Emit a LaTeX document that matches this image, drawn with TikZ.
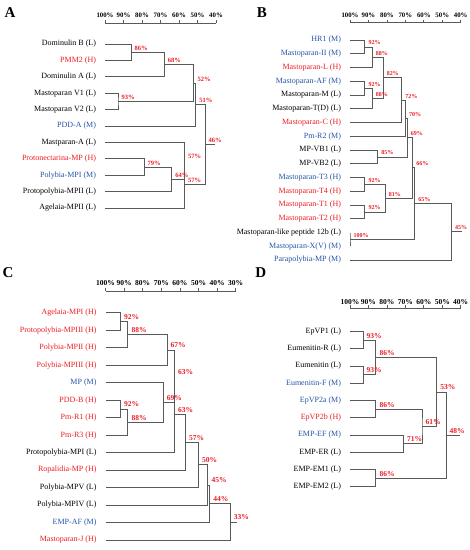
\documentclass[tikz,border=0pt]{standalone}
\usepackage{fontspec}
\setmainfont{Liberation Serif}
\definecolor{hred}{RGB}{236,28,36}
\definecolor{mblue}{RGB}{36,84,166}

\begin{document}
\begin{tikzpicture}[x=1pt, y=-1pt,
  leaf/.style={anchor=east, inner sep=0pt, outer xsep=9pt, font=\fontsize{8}{9}\selectfont},
  pct/.style={anchor=base west, inner sep=0pt, xshift=3.5pt, yshift=2pt, text=hred, font=\bfseries\fontsize{#1}{#1}\selectfont},
  pct/.default=7.5,
  tick/.style={inner sep=0pt, font=\bfseries\fontsize{#1}{#1}\selectfont},
  panel/.style={font=\bfseries\fontsize{15}{15}\selectfont},
  br/.style={draw=black!65, line width=0.7pt}]

  \useasboundingbox (0,0) rectangle (470,550);

  % panel A
  \node[panel] (labA) at (10,12.5) {A};
  \draw[br] (105,23) -- (216,23);
  \foreach \p [count=\i from 0] in {100,90,...,40} {
    \draw[br] (105+\i*18.5,23) -- ++(0,-3);
    \node[tick=6.8] (tA\i) at (105+\i*18.5,15) {\p\%};
  }

  \node[leaf] (a1) at (105,44) {Dominulin B (L)};
  \node[leaf, text=hred] (a2) at (105,60.4) {PMM2 (H)};
  \node[leaf] (a3) at (105,76.8) {Dominulin A (L)};
  \node[leaf] (a4) at (105,93.2) {Mastoparan V1 (L)};
  \node[leaf] (a5) at (105,109.6) {Mastoparan V2 (L)};
  \node[leaf, text=mblue] (a6) at (105,126) {PDD-A (M)};
  \node[leaf] (a7) at (105,142.4) {Mastparan-A (L)};
  \node[leaf, text=hred] (a8) at (105,158.8) {Protonectarina-MP (H)};
  \node[leaf, text=mblue] (a9) at (105,175.2) {Polybia-MPI (M)};
  \node[leaf] (a10) at (105,191.6) {Protopolybia-MPII (L)};
  \node[leaf] (a11) at (105,208) {Agelaia-MPII (L)};

  \coordinate (jA1) at (130.9,52.2);
  \coordinate (jA2) at (164.2,64.5);
  \coordinate (jA3) at (118,101.4);
  \coordinate (jA4) at (193.8,83);
  \coordinate (jA5) at (195.7,104.5);
  \coordinate (jA6) at (143.9,167);
  \coordinate (jA7) at (171.6,179.3);
  \coordinate (jA8) at (184.5,160.9);
  \coordinate (jA9) at (184.5,184.4);
  \coordinate (jA10) at (204.9,144.5);
  \coordinate (rA) at (215,144.5);

  \draw[br] (a1.east) -| (jA1) |- (a2.east);
  \draw[br] (jA1) -| (jA2) |- (a3.east);
  \draw[br] (a4.east) -| (jA3) |- (a5.east);
  \draw[br] (jA2) -| (jA4) |- (jA3);
  \draw[br] (jA4) -| (jA5) |- (a6.east);
  \draw[br] (a8.east) -| (jA6) |- (a9.east);
  \draw[br] (jA6) -| (jA7) |- (a10.east);
  \draw[br] (a7.east) -| (jA8) |- (jA7);
  \draw[br] (jA8) -| (jA9) |- (a11.east);
  \draw[br] (jA5) -| (jA10) |- (jA9);
  \draw[br] (jA10) -- (rA);

  \node[pct=6.5] (pA1) at (jA1) {86\%};
  \node[pct=6.5] (pA2) at (jA2) {68\%};
  \node[pct=6.5] (pA3) at (jA3) {93\%};
  \node[pct=6.5] (pA4) at (jA4) {52\%};
  \node[pct=6.5] (pA5) at (jA5) {51\%};
  \node[pct=6.5] (pA6) at (jA6) {79\%};
  \node[pct=6.5] (pA7) at (jA7) {64\%};
  \node[pct=6.5] (pA8) at (jA8) {57\%};
  \node[pct=6.5] (pA9) at (jA9) {57\%};
  \node[pct=6.5] (pA10) at (jA10) {46\%};

  % panel B
  \node[panel] (labB) at (262,12.5) {B};
  \draw[br] (350,22.5) -- (460.7,22.5);
  \foreach \p [count=\i from 0] in {100,90,...,40} {
    \draw[br] (350+\i*18.45,22.5) -- ++(0,-3);
    \node[tick=6.8] (tB\i) at (350+\i*18.45,15) {\p\%};
  }

  \node[leaf, text=mblue] (b1) at (350,40) {HR1 (M)};
  \node[leaf, text=mblue] (b2) at (350,53.75) {Mastoparan-II (M)};
  \node[leaf, text=hred] (b3) at (350,67.5) {Mastoparan-L (H)};
  \node[leaf, text=mblue] (b4) at (350,81.25) {Mastoparan-AF (M)};
  \node[leaf] (b5) at (350,95) {Mastoparan-M (L)};
  \node[leaf] (b6) at (350,108.75) {Mastoparan-T(D) (L)};
  \node[leaf, text=hred] (b7) at (350,122.5) {Mastoparan-C (H)};
  \node[leaf, text=mblue] (b8) at (350,136.25) {Pm-R2 (M)};
  \node[leaf] (b9) at (350,150) {MP-VB1 (L)};
  \node[leaf] (b10) at (350,163.75) {MP-VB2 (L)};
  \node[leaf, text=mblue] (b11) at (350,177.5) {Mastoparan-T3 (H)};
  \node[leaf, text=hred] (b12) at (350,191.25) {Mastoparan-T4 (H)};
  \node[leaf, text=hred] (b13) at (350,205) {Mastoparan-T1 (H)};
  \node[leaf, text=hred] (b14) at (350,218.75) {Mastoparan-T2 (H)};
  \node[leaf] (b15) at (350,232.5) {Mastoparan-like peptide 12b (L)};
  \node[leaf, text=mblue] (b16) at (350,246.25) {Mastoparan-X(V) (M)};
  \node[leaf, text=mblue] (b17) at (350,260) {Parapolybia-MP (M)};

  \coordinate (jB1) at (364.8,46.9);
  \coordinate (jB2) at (372.1,57.2);
  \coordinate (jB3) at (364.8,88.1);
  \coordinate (jB4) at (372.1,98.4);
  \coordinate (jB5) at (383.2,77.8);
  \coordinate (jB6) at (401.7,100.1);
  \coordinate (jB7) at (405.4,118.2);
  \coordinate (jB8) at (377.7,156.9);
  \coordinate (jB9) at (407.2,137.5);
  \coordinate (jB10) at (364.8,184.4);
  \coordinate (jB11) at (364.8,211.9);
  \coordinate (jB12) at (385.1,198.1);
  \coordinate (jB13) at (412.7,167.8);
  \coordinate (jB14) at (350,239.4);
  \coordinate (jB15) at (414.6,203.6);
  \coordinate (jB16) at (451.5,231.8);
  \coordinate (rB) at (461.5,231.8);

  \draw[br] (b1.east) -| (jB1) |- (b2.east);
  \draw[br] (jB1) -| (jB2) |- (b3.east);
  \draw[br] (b4.east) -| (jB3) |- (b5.east);
  \draw[br] (jB3) -| (jB4) |- (b6.east);
  \draw[br] (jB2) -| (jB5) |- (jB4);
  \draw[br] (jB5) -| (jB6) |- (b7.east);
  \draw[br] (jB6) -| (jB7) |- (b8.east);
  \draw[br] (b9.east) -| (jB8) |- (b10.east);
  \draw[br] (jB7) -| (jB9) |- (jB8);
  \draw[br] (b11.east) -| (jB10) |- (b12.east);
  \draw[br] (b13.east) -| (jB11) |- (b14.east);
  \draw[br] (jB10) -| (jB12) |- (jB11);
  \draw[br] (jB9) -| (jB13) |- (jB12);
  \draw[br] (b15.east) -| (jB14) |- (b16.east);
  \draw[br] (jB13) -| (jB15) |- (jB14);
  \draw[br] (jB15) -| (jB16) |- (b17.east);
  \draw[br] (jB16) -- (rB);

  \node[pct=6] (pB1) at (jB1) {92\%};
  \node[pct=6] (pB2) at (jB2) {88\%};
  \node[pct=6] (pB3) at (jB3) {92\%};
  \node[pct=6] (pB4) at (jB4) {88\%};
  \node[pct=6] (pB5) at (jB5) {82\%};
  \node[pct=6] (pB6) at (jB6) {72\%};
  \node[pct=6] (pB7) at (jB7) {70\%};
  \node[pct=6] (pB8) at (jB8) {85\%};
  \node[pct=6] (pB9) at (jB9) {69\%};
  \node[pct=6] (pB10) at (jB10) {92\%};
  \node[pct=6] (pB11) at (jB11) {92\%};
  \node[pct=6] (pB12) at (jB12) {81\%};
  \node[pct=6] (pB13) at (jB13) {66\%};
  \node[pct=6] (pB14) at (jB14) {100\%};
  \node[pct=6] (pB15) at (jB15) {65\%};
  \node[pct=6] (pB16) at (jB16) {45\%};

  % panel C
  \node[panel] (labC) at (8,273) {C};
  \draw[br] (105.5,291) -- (235.7,291);
  \foreach \p [count=\i from 0] in {100,90,...,30} {
    \draw[br] (105.5+\i*18.6,291) -- ++(0,-3);
    \node[tick=7.5] (tC\i) at (105.5+\i*18.6,283.3) {\p\%};
  }

  \node[leaf, text=hred] (c1) at (105.5,312.7) {Agelaia-MPI (H)};
  \node[leaf, text=hred] (c2) at (105.5,330.2) {Protopolybia-MPIII (H)};
  \node[leaf, text=hred] (c3) at (105.5,347.7) {Polybia-MPII (H)};
  \node[leaf, text=hred] (c4) at (105.5,365.1) {Polybia-MPIII (H)};
  \node[leaf, text=mblue] (c5) at (105.5,382.6) {MP (M)};
  \node[leaf, text=hred] (c6) at (105.5,400.1) {PDD-B (H)};
  \node[leaf, text=hred] (c7) at (105.5,417.6) {Pm-R1 (H)};
  \node[leaf, text=hred] (c8) at (105.5,435.1) {Pm-R3 (H)};
  \node[leaf] (c9) at (105.5,452.5) {Protopolybia-MPI (L)};
  \node[leaf, text=hred] (c10) at (105.5,470) {Ropalidia-MP (H)};
  \node[leaf] (c11) at (105.5,487.5) {Polybia-MPV (L)};
  \node[leaf] (c12) at (105.5,505) {Polybia-MPIV (L)};
  \node[leaf, text=mblue] (c13) at (105.5,522.5) {EMP-AF (M)};
  \node[leaf, text=hred] (c14) at (105.5,540) {Mastoparan-J (H)};

  \coordinate (jC1) at (120.4,321.5);
  \coordinate (jC2) at (127.8,334.6);
  \coordinate (jC3) at (166.9,349.9);
  \coordinate (jC4) at (120.4,408.9);
  \coordinate (jC5) at (127.8,422);
  \coordinate (jC6) at (163.2,402.3);
  \coordinate (jC7) at (174.3,376.1);
  \coordinate (jC8) at (174.3,414.3);
  \coordinate (jC9) at (185.5,442.2);
  \coordinate (jC10) at (198.5,464.8);
  \coordinate (jC11) at (207.8,484.9);
  \coordinate (jC12) at (209.7,503.7);
  \coordinate (jC13) at (230.1,521.9);
  \coordinate (rC) at (237,521.9);

  \draw[br] (c1.east) -| (jC1) |- (c2.east);
  \draw[br] (jC1) -| (jC2) |- (c3.east);
  \draw[br] (jC2) -| (jC3) |- (c4.east);
  \draw[br] (c6.east) -| (jC4) |- (c7.east);
  \draw[br] (jC4) -| (jC5) |- (c8.east);
  \draw[br] (c5.east) -| (jC6) |- (jC5);
  \draw[br] (jC3) -| (jC7) |- (jC6);
  \draw[br] (jC7) -| (jC8) |- (c9.east);
  \draw[br] (jC8) -| (jC9) |- (c10.east);
  \draw[br] (jC9) -| (jC10) |- (c11.east);
  \draw[br] (jC10) -| (jC11) |- (c12.east);
  \draw[br] (jC11) -| (jC12) |- (c13.east);
  \draw[br] (jC12) -| (jC13) |- (c14.east);
  \draw[br] (jC13) -- (rC);

  \node[pct] (pC1) at (jC1) {92\%};
  \node[pct] (pC2) at (jC2) {88\%};
  \node[pct] (pC3) at (jC3) {67\%};
  \node[pct] (pC4) at (jC4) {92\%};
  \node[pct] (pC5) at (jC5) {88\%};
  \node[pct] (pC6) at (jC6) {69\%};
  \node[pct] (pC7) at (jC7) {63\%};
  \node[pct] (pC8) at (jC8) {63\%};
  \node[pct] (pC9) at (jC9) {57\%};
  \node[pct] (pC10) at (jC10) {50\%};
  \node[pct] (pC11) at (jC11) {45\%};
  \node[pct] (pC12) at (jC12) {44\%};
  \node[pct] (pC13) at (jC13) {33\%};

  % panel D
  \node[panel] (labD) at (260.7,273) {D};
  \draw[br] (350,308.3) -- (460.7,308.3);
  \foreach \p [count=\i from 0] in {100,90,...,40} {
    \draw[br] (350+\i*18.45,308.3) -- ++(0,-3);
    \node[tick=7.5] (tD\i) at (350+\i*18.45,301.7) {\p\%};
  }

  \node[leaf] (d1) at (350,331.5) {EpVP1 (L)};
  \node[leaf] (d2) at (350,348.75) {Eumenitin-R (L)};
  \node[leaf] (d3) at (350,366) {Eumenitin (L)};
  \node[leaf, text=mblue] (d4) at (350,383.25) {Eumenitin-F (M)};
  \node[leaf, text=mblue] (d5) at (350,400.5) {EpVP2a (M)};
  \node[leaf, text=hred] (d6) at (350,417.75) {EpVP2b (H)};
  \node[leaf, text=mblue] (d7) at (350,435) {EMP-EF (M)};
  \node[leaf] (d8) at (350,452.25) {EMP-ER (L)};
  \node[leaf] (d9) at (350,469.5) {EMP-EM1 (L)};
  \node[leaf] (d10) at (350,486.75) {EMP-EM2 (L)};

  \coordinate (jD1) at (362.9,340.1);
  \coordinate (jD2) at (362.9,374.6);
  \coordinate (jD3) at (375.8,357.4);
  \coordinate (jD4) at (375.8,409.1);
  \coordinate (jD5) at (403.5,443.6);
  \coordinate (jD6) at (422,426.4);
  \coordinate (jD7) at (436.7,391.9);
  \coordinate (jD8) at (375.8,478.1);
  \coordinate (jD9) at (445.9,435);
  \coordinate (rD) at (460,435);

  \draw[br] (d1.east) -| (jD1) |- (d2.east);
  \draw[br] (d3.east) -| (jD2) |- (d4.east);
  \draw[br] (jD1) -| (jD3) |- (jD2);
  \draw[br] (d5.east) -| (jD4) |- (d6.east);
  \draw[br] (d7.east) -| (jD5) |- (d8.east);
  \draw[br] (jD4) -| (jD6) |- (jD5);
  \draw[br] (jD3) -| (jD7) |- (jD6);
  \draw[br] (d9.east) -| (jD8) |- (d10.east);
  \draw[br] (jD7) -| (jD9) |- (jD8);
  \draw[br] (jD9) -- (rD);

  \node[pct] (pD1) at (jD1) {93\%};
  \node[pct] (pD2) at (jD2) {93\%};
  \node[pct] (pD3) at (jD3) {86\%};
  \node[pct] (pD4) at (jD4) {86\%};
  \node[pct] (pD5) at (jD5) {71\%};
  \node[pct] (pD6) at (jD6) {61\%};
  \node[pct] (pD7) at (jD7) {53\%};
  \node[pct] (pD8) at (jD8) {86\%};
  \node[pct] (pD9) at (jD9) {48\%};

\end{tikzpicture}
\end{document}
